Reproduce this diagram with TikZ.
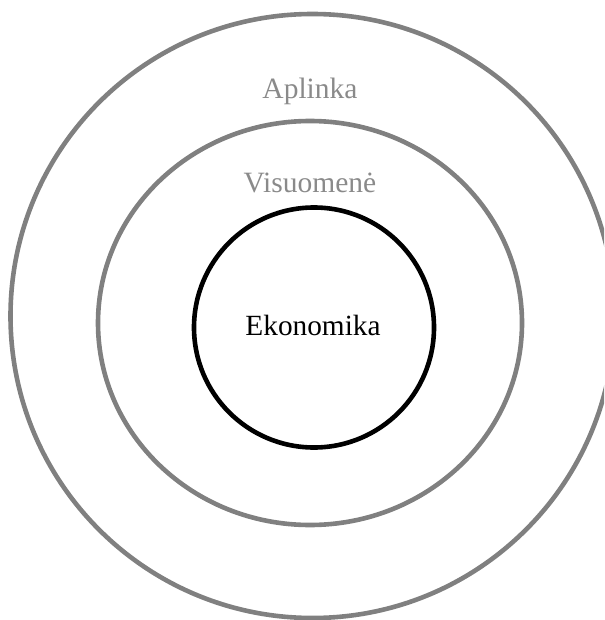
\documentclass[tikz,border=0pt]{standalone}
\usepackage{fontspec}
\setmainfont{Liberation Serif}
\definecolor{ringgray}{HTML}{808080}
\definecolor{textgray}{HTML}{8A8A8A}
\tikzset{
  ring/.style={line width=4.6pt,color=ringgray},
  core/.style={line width=4.6pt,color=black},
  ringlabel/.style={anchor=base,inner sep=0pt,text=textgray,font=\fontsize{29.5}{34}\selectfont},
  corelabel/.style={anchor=base,inner sep=0pt,text=black,font=\fontsize{29.3}{34}\selectfont}
}
\begin{document}
\begin{tikzpicture}[x=1pt,y=-1pt]
\useasboundingbox (0,0) rectangle (604,620);
%\draw[help lines,step=50] (0,0) grid (604,620);

\begin{scope}
\clip (0,0) rectangle (604,620);
\draw[ring] (312.5,316) circle (302);
\end{scope}
\draw[ring] (310,323) ellipse (212 and 202);
\draw[core] (314,327.5) circle (120);

\node[ringlabel] (aplinka) at (310,99) {Aplinka};
\node[ringlabel] (visuomene) at (310,193) {Visuomenė};
\node[corelabel] (ekonomika) at (313,335) {Ekonomika};
\end{tikzpicture}
\end{document}
